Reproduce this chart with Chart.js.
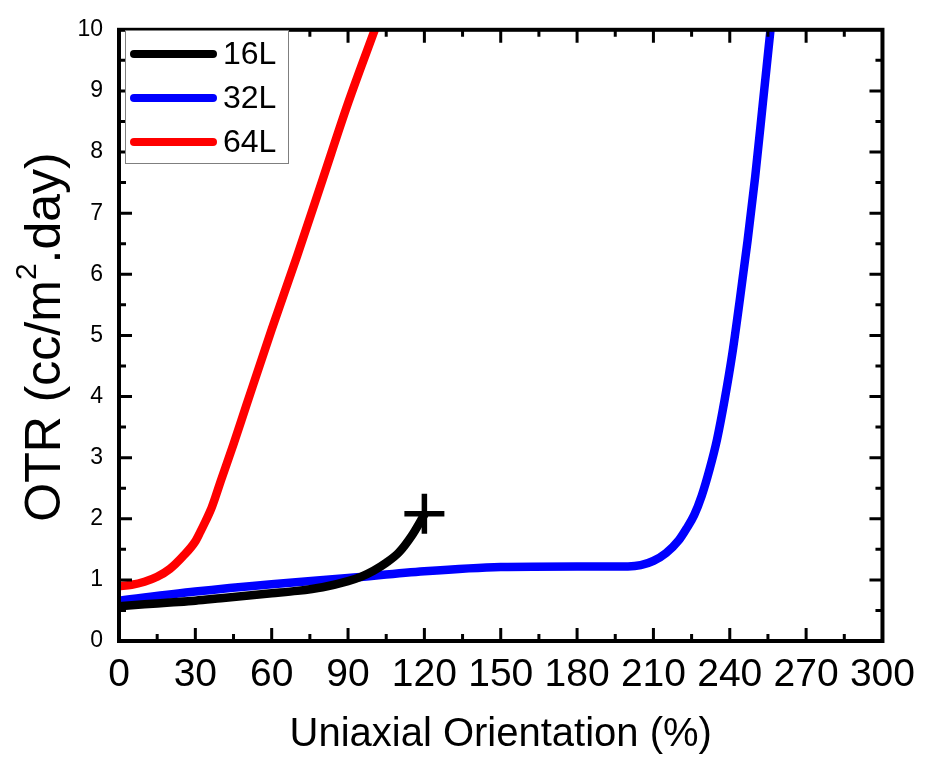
<!DOCTYPE html>
<html>
<head>
<meta charset="utf-8">
<title>OTR vs Uniaxial Orientation</title>
<script src="https://cdn.jsdelivr.net/npm/chart.js@4.4.1/dist/chart.umd.min.js"></script>
<style>
    html, body { margin: 0; padding: 0; background: #fff; }
    canvas { display: block; }
</style>
</head>
<body>
<canvas id="otrChart" width="926" height="759"></canvas>
<script>
// values
const xTicks = [0, 30, 60, 90, 120, 150, 180, 210, 240, 270, 300];
const yTicks = [0, 1, 2, 3, 4, 5, 6, 7, 8, 9, 10];

const x16 = [0, 10, 20, 30, 40, 50, 60, 70, 80, 90, 95, 100, 105, 110, 115, 120];
const y16 = [0.57, 0.6, 0.63, 0.66, 0.7, 0.74, 0.78, 0.82, 0.88, 0.98, 1.05, 1.15, 1.28, 1.45, 1.72, 2.07];

const x32 = [0, 30, 60, 90, 120, 150, 180, 200, 205, 210, 215, 220, 223, 226, 229, 232, 235, 238, 241, 244, 247, 250, 253, 256];
const y32 = [0.66, 0.81, 0.93, 1.03, 1.14, 1.21, 1.22, 1.22, 1.24, 1.31, 1.44, 1.65, 1.84, 2.06, 2.38, 2.8, 3.3, 3.95, 4.7, 5.6, 6.55, 7.6, 8.8, 10];

const x64 = [0, 5, 10, 15, 20, 25, 30, 32, 34, 36, 38, 40, 45, 50, 60, 70, 80, 90, 100.5];
const y64 = [0.9, 0.92, 0.97, 1.05, 1.18, 1.38, 1.63, 1.79, 1.96, 2.14, 2.37, 2.62, 3.22, 3.85, 5.1, 6.3, 7.55, 8.8, 10];

// end of the 16L curve (failure mark)
const breakX = [120];
const breakY = [2.08];

const seriesNames = ['16L', '32L', '64L'];
const seriesColors = ['#000000', '#0000ff', '#ff0000'];

const FONT = '"Liberation Sans", Arial, sans-serif';

function toPoints(xs, ys) {
    return xs.map((x, i) => ({ x: x, y: ys[i] }));
}

function lineSet(label, xs, ys, color) {
    return {
        label: label,
        data: toPoints(xs, ys),
        showLine: true,
        borderColor: color,
        backgroundColor: color,
        borderWidth: 8.5,
        pointRadius: 0,
        cubicInterpolationMode: 'monotone',
        borderCapStyle: 'round',
        borderJoinStyle: 'round'
    };
}

// frame, inward ticks, legend and y title
const decorations = {
    id: 'decorations',
    afterDraw(chart) {
        const ctx = chart.ctx;
        const area = chart.chartArea;
        const xs = chart.scales.x;
        const ys = chart.scales.y;
        ctx.save();

        // ticks on all four sides, pointing inward
        ctx.strokeStyle = '#000';
        ctx.lineWidth = 3;
        ctx.lineCap = 'butt';
        ctx.beginPath();
        for (let v = 15; v < 300; v += 15) {
            const px = xs.getPixelForValue(v);
            const len = v % 30 === 0 ? 13 : 7;
            ctx.moveTo(px, area.bottom); ctx.lineTo(px, area.bottom - len);
            ctx.moveTo(px, area.top); ctx.lineTo(px, area.top + len);
        }
        for (let v = 0.5; v < 10; v += 0.5) {
            const py = ys.getPixelForValue(v);
            const len = Math.abs(v - Math.round(v)) < 0.01 ? 13 : 7;
            ctx.moveTo(area.left, py); ctx.lineTo(area.left + len, py);
            ctx.moveTo(area.right, py); ctx.lineTo(area.right - len, py);
        }
        ctx.stroke();

        // frame
        ctx.lineWidth = 4;
        ctx.strokeRect(area.left, area.top, area.right - area.left, area.bottom - area.top);

        // legend
        ctx.fillStyle = '#fff';
        ctx.fillRect(125.5, 30.5, 163, 133);
        ctx.strokeStyle = '#7f7f7f';
        ctx.lineWidth = 1;
        ctx.strokeRect(125.5, 30.5, 163, 133);
        ctx.lineCap = 'round';
        ctx.lineWidth = 8;
        ctx.font = '32px ' + FONT;
        ctx.textBaseline = 'middle';
        ctx.textAlign = 'left';
        seriesNames.forEach((name, i) => {
            const y = 54 + i * 44;
            ctx.strokeStyle = seriesColors[i];
            ctx.beginPath();
            ctx.moveTo(134, y);
            ctx.lineTo(213, y);
            ctx.stroke();
            ctx.fillStyle = '#000';
            ctx.fillText(name, 223, y + 1);
        });

        // y axis title with superscript
        const mainFont = '50px ' + FONT;
        const supFont = '30px ' + FONT;
        const p1 = 'OTR (cc/m', p2 = '2', p3 = '.day)';
        ctx.font = mainFont;
        const w1 = ctx.measureText(p1).width;
        const w3 = ctx.measureText(p3).width;
        ctx.font = supFont;
        const w2 = ctx.measureText(p2).width;
        const total = w1 + w2 + w3;
        ctx.translate(60, 337);
        ctx.rotate(-Math.PI / 2);
        ctx.textBaseline = 'alphabetic';
        ctx.fillStyle = '#000';
        let cx = -total / 2;
        ctx.font = mainFont;
        ctx.fillText(p1, cx, 0);
        cx += w1;
        ctx.font = supFont;
        ctx.fillText(p2, cx, -24);
        cx += w2;
        ctx.font = mainFont;
        ctx.fillText(p3, cx, 0);

        ctx.restore();
    }
};

new Chart(document.getElementById('otrChart'), {
    type: 'scatter',
    data: {
        datasets: [
            lineSet(seriesNames[0], x16, y16, seriesColors[0]),
            lineSet(seriesNames[1], x32, y32, seriesColors[1]),
            lineSet(seriesNames[2], x64, y64, seriesColors[2]),
            {
                label: '16L break',
                data: toPoints(breakX, breakY),
                pointStyle: 'cross',
                pointRadius: 20,
                pointBorderWidth: 5.5,
                borderColor: '#000',
                backgroundColor: '#000',
                showLine: false
            }
        ]
    },
    options: {
        responsive: false,
        animation: false,
        layout: { padding: { top: 23, right: 36, left: 0, bottom: 0 } },
        plugins: {
            legend: { display: false },
            tooltip: { enabled: false }
        },
        scales: {
            x: {
                type: 'linear',
                min: 0,
                max: 300,
                afterFit(scale) { scale.height = 118; },
                afterBuildTicks(scale) { scale.ticks = xTicks.map(v => ({ value: v })); },
                grid: { display: false, drawTicks: false },
                border: { display: false },
                ticks: {
                    color: '#000',
                    padding: 11,
                    maxRotation: 0,
                    autoSkip: false,
                    font: { family: FONT, size: 39 }
                },
                title: {
                    display: true,
                    text: 'Uniaxial Orientation (%)',
                    color: '#000',
                    padding: { top: 0, bottom: 0 },
                    font: { family: FONT, size: 40 }
                }
            },
            y: {
                type: 'linear',
                min: 0,
                max: 10,
                afterFit(scale) { scale.width = 119; },
                afterBuildTicks(scale) { scale.ticks = yTicks.map(v => ({ value: v })); },
                grid: { display: false, drawTicks: false },
                border: { display: false },
                ticks: {
                    color: '#000',
                    padding: 16,
                    autoSkip: false,
                    font: { family: FONT, size: 23 }
                }
            }
        }
    },
    plugins: [decorations]
});
</script>
</body>
</html>
